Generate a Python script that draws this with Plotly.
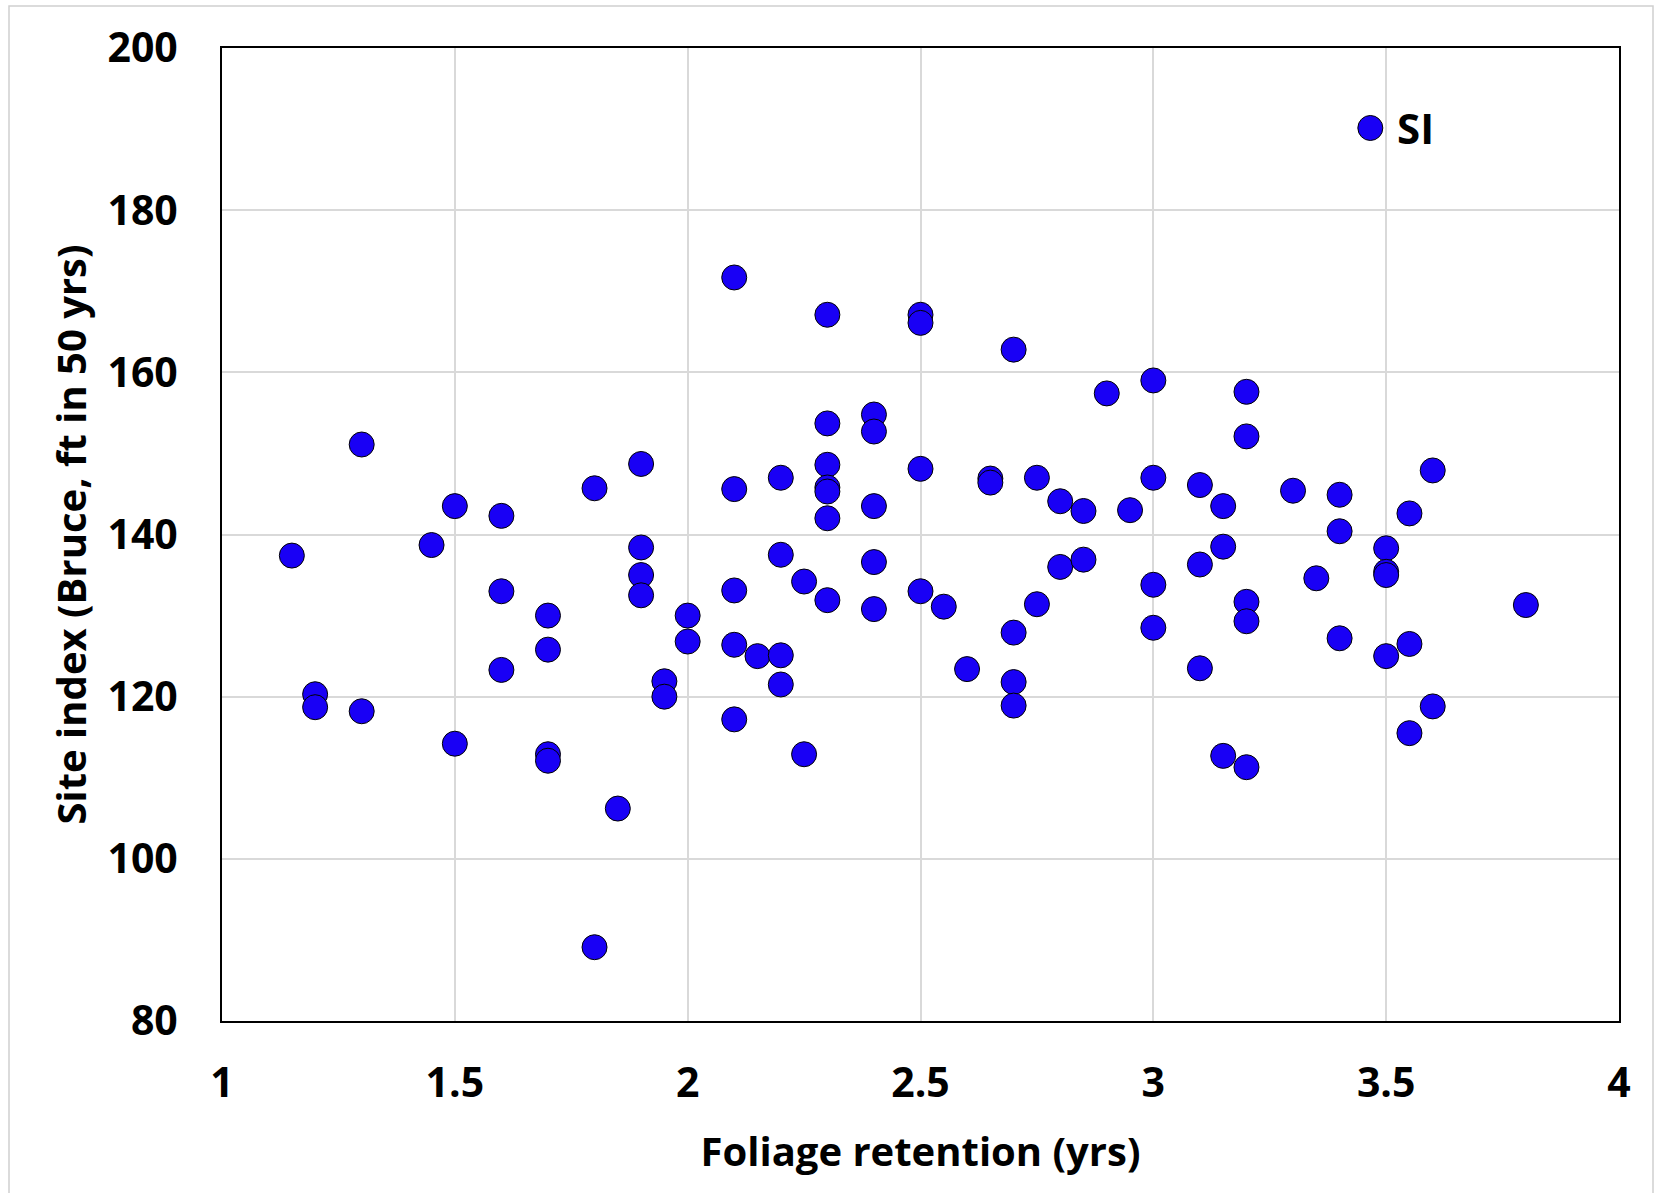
import plotly.graph_objects as go

# Foliage retention (yrs)
foliage_retention = [
    1.15, 1.2, 1.2, 1.3, 1.3, 1.45, 1.5, 1.5, 1.6, 1.6, 1.6,
    1.7, 1.7, 1.7, 1.7, 1.8, 1.8, 1.85, 1.9, 1.9, 1.9, 1.9,
    1.95, 1.95, 2.0, 2.0, 2.1, 2.1, 2.1, 2.1, 2.1, 2.15,
    2.2, 2.2, 2.2, 2.2, 2.25, 2.25, 2.3, 2.3, 2.3, 2.3, 2.3, 2.3, 2.3,
    2.4, 2.4, 2.4, 2.4, 2.4, 2.5, 2.5, 2.5, 2.5, 2.55, 2.6, 2.65, 2.65,
    2.7, 2.7, 2.7, 2.7, 2.75, 2.75, 2.8, 2.8, 2.85, 2.85, 2.9, 2.95,
    3.0, 3.0, 3.0, 3.0, 3.1, 3.1, 3.1, 3.15, 3.15, 3.15,
    3.2, 3.2, 3.2, 3.2, 3.2, 3.3, 3.35, 3.4, 3.4, 3.4,
    3.5, 3.5, 3.5, 3.5, 3.55, 3.55, 3.55, 3.6, 3.6, 3.8,
]

# Site index (Bruce, ft in 50 yrs)
site_index = [
    137.4, 120.3, 118.7, 151.1, 118.2, 138.7, 143.5, 114.2, 142.3, 133.0, 123.3,
    130.0, 125.8, 112.9, 112.1, 145.7, 89.1, 106.2, 148.7, 138.4, 135.0, 132.5,
    121.9, 120.0, 130.0, 126.8, 171.7, 145.6, 133.1, 126.4, 117.2, 125.0,
    147.0, 137.5, 125.1, 121.5, 134.2, 112.9, 167.1, 153.7, 148.6, 145.8, 145.3, 142.0, 131.9,
    154.8, 152.7, 143.5, 136.6, 130.8, 167.1, 166.1, 148.1, 133.0, 131.1, 123.4, 146.9, 146.4,
    162.8, 127.9, 121.8, 118.9, 147.0, 131.4, 144.1, 136.0, 142.9, 136.9, 157.4, 143.0,
    159.0, 147.0, 133.8, 128.5, 146.1, 136.3, 123.5, 143.5, 138.5, 112.7,
    157.6, 152.1, 131.7, 129.3, 111.3, 145.4, 134.6, 144.9, 140.4, 127.2,
    138.3, 135.4, 135.0, 125.0, 142.6, 126.5, 115.5, 147.9, 118.8, 131.3,
]

x_ticks = [1, 1.5, 2, 2.5, 3, 3.5, 4]
x_tick_labels = ["1", "1.5", "2", "2.5", "3", "3.5", "4"]
y_ticks = [80, 100, 120, 140, 160, 180, 200]
y_tick_labels = ["80", "100", "120", "140", "160", "180", "200"]
series_name = "SI"

FONT = "Open Sans"
BLUE = "rgb(25,0,245)"
MARKER_SIZE = 25

fig = go.Figure()
fig.add_trace(go.Scatter(
    x=foliage_retention,
    y=site_index,
    mode="markers",
    name=series_name,
    marker=dict(size=MARKER_SIZE, color=BLUE, line=dict(color="black", width=1)),
    showlegend=False,
))

# Legend (drawn manually so that its symbol matches the full marker size)
LEG_X = 0.822
LEG_Y = 0.9178
legend_shapes = [
    dict(
        type="circle", xref="paper", yref="paper",
        xsizemode="pixel", ysizemode="pixel",
        xanchor=LEG_X, yanchor=LEG_Y,
        x0=-MARKER_SIZE / 2, x1=MARKER_SIZE / 2,
        y0=-MARKER_SIZE / 2, y1=MARKER_SIZE / 2,
        fillcolor=BLUE, line=dict(color="black", width=1),
        layer="above",
    )
]

fig.update_layout(
    width=1659,
    height=1193,
    margin=dict(l=222, r=40, t=48, b=172),
    paper_bgcolor="white",
    plot_bgcolor="white",
    font=dict(family=FONT, color="black"),
    showlegend=False,
    xaxis=dict(
        range=[1, 4],
        tickvals=x_ticks,
        ticktext=x_tick_labels,
        showgrid=True,
        gridcolor="#d9d9d9",
        gridwidth=1.5,
        zeroline=False,
        showline=True,
        linecolor="black",
        linewidth=2,
        mirror=True,
        ticks="outside",
        ticklen=25,
        tickcolor="rgba(0,0,0,0)",
        tickfont=dict(family=FONT, size=41, color="black", weight="bold"),
        title=dict(
            text="Foliage retention (yrs)",
            font=dict(family=FONT, size=40, color="black", weight="bold"),
            standoff=30,
        ),
    ),
    yaxis=dict(
        range=[80, 200],
        tickvals=y_ticks,
        ticktext=y_tick_labels,
        showgrid=True,
        gridcolor="#d9d9d9",
        gridwidth=1.5,
        zeroline=False,
        showline=True,
        linecolor="black",
        linewidth=2,
        mirror=True,
        ticks="outside",
        ticklen=34,
        tickcolor="rgba(0,0,0,0)",
        tickfont=dict(family=FONT, size=41, color="black", weight="bold"),
        title=dict(
            text="Site index (Bruce, ft in 50 yrs)",
            font=dict(family=FONT, size=40, color="black", weight="bold"),
            standoff=8,
        ),
    ),
    annotations=[
        dict(
            text=series_name, xref="paper", yref="paper",
            x=0.8397, y=LEG_Y, xanchor="left", yanchor="middle",
            showarrow=False,
            font=dict(family=FONT, size=42, color="black", weight="bold"),
        )
    ],
    shapes=[
        dict(
            type="rect", xref="paper", yref="paper",
            x0=(9 - 222) / 1397, x1=(1653 - 222) / 1397,
            y0=-0.3, y1=(1021 - 6) / 973,
            line=dict(color="#d0d0d0", width=1.5),
            fillcolor="rgba(0,0,0,0)",
            layer="below",
        )
    ] + legend_shapes,
)

fig.write_html("out.html")
